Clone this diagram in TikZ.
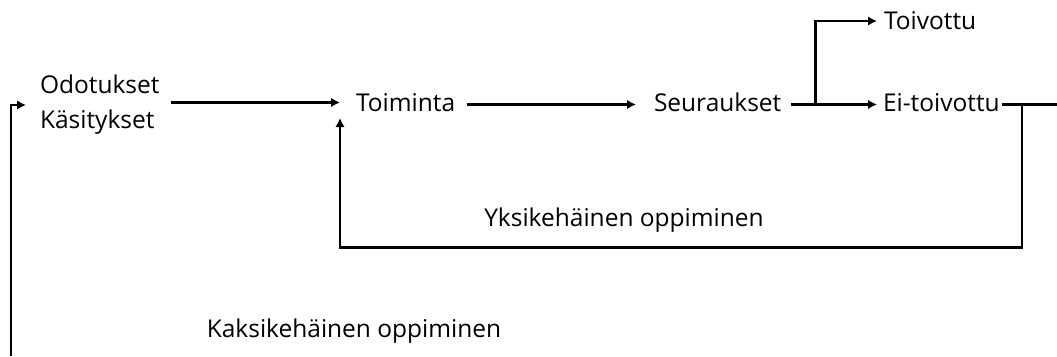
\documentclass[tikz,border=0pt]{standalone}
\usepackage{fontspec}
\setmainfont{Open Sans}
\usetikzlibrary{arrows.meta}

\begin{document}
\begin{tikzpicture}[x=1pt, y=-1pt,
  lbl/.style={inner sep=0pt, outer sep=0pt, anchor=base west,
              font=\fontsize{24.5}{30}\selectfont},
  arr/.style={line width=2.5pt, -{Latex[length=9pt,width=9.5pt]}},
  ln/.style={line width=2.5pt}]

  % canvas
  \fill[white] (0,0) rectangle (1057,356);
  \useasboundingbox (0,0) rectangle (1057,356);
  \coordinate (rightedge) at (1057,0);
  \coordinate (bottomedge) at (11,356);

  % labels
  \node[lbl] (odo)  at (40,93)   {Odotukset};
  \node[lbl] (kas)  at (40,128)  {Käsitykset};
  \node[lbl] (toim) at (356,111) {Toiminta};
  \node[lbl] (seur) at (654,111) {Seuraukset};
  \node[lbl] (toiv) at (884,29)  {Toivottu};
  \node[lbl] (ei)   at (883,111) {Ei-toivottu};
  \node[lbl, anchor=base] (yks)  at (624,226) {Yksikehäinen oppiminen};
  \node[lbl, anchor=base] (kaks) at (354,337) {Kaksikehäinen oppiminen};

  % main chain
  \draw[arr] ([shift={(11pt,-9.5pt)}]odo.base east)
          -- ([shift={(-16pt,-9.5pt)}]odo.base east -| toim.west);
  \draw[arr] ([shift={(12pt,6.5pt)}]toim.base east)
          -- ([shift={(-18pt,6.5pt)}]seur.base west);
  \draw[arr] ([shift={(10pt,6.5pt)}]seur.base east)
          -- ([shift={(-6pt,6.5pt)}]ei.base west);

  % branch to the desired outcome
  \coordinate (br) at ([shift={(34pt,6.5pt)}]seur.base east);
  \draw[arr] (br) |- ([shift={(-7pt,8pt)}]toiv.base west);

  % undesired outcome leaves to the right
  \coordinate (eiout) at ([shift={(2pt,6.5pt)}]ei.base east);
  \draw[ln] (eiout) -- (eiout -| rightedge);

  % single-loop learning back to the action
  \coordinate (dl) at ([shift={(22pt,6.5pt)}]ei.base east);
  \draw[arr] (dl) -- ++(0,143) -| ([shift={(-16pt,-7pt)}]toim.base west);

  % double-loop learning back to the expectations
  \draw[arr] (bottomedge) |- ([shift={(-14pt,-12pt)}]odo.base west);
\end{tikzpicture}
\end{document}
